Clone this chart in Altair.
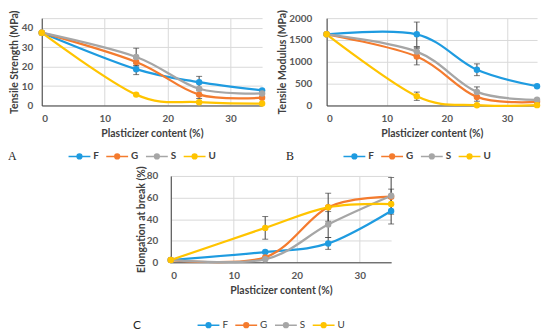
import altair as alt
import pandas as pd

# ---------------- data ----------------
series = ["F", "G", "S", "U"]
colors = ["#1E9BE0", "#F47B2E", "#A6A6A6", "#FFC400"]
content = [0, 15, 25, 35]

# A: Tensile strength (MPa)
ts_vals = {
    "F": [37.5, 18.7, 12.0, 7.8],
    "G": [37.5, 22.4, 5.6, 4.0],
    "S": [37.5, 25.0, 8.6, 6.2],
    "U": [37.5, 5.6, 1.7, 1.0],
}
ts_errs = {
    "F": [0, 2.8, 3.0, 0],
    "G": [0, 2.0, 2.0, 0],
    "S": [0, 4.5, 3.0, 0],
    "U": [0, 0, 0, 0],
}

# B: Tensile modulus (MPa)
tm_vals = {
    "F": [1630, 1630, 818, 440],
    "G": [1630, 1120, 197, 84],
    "S": [1630, 1234, 311, 130],
    "U": [1630, 212, 7, 8],
}
tm_errs = {
    "F": [0, 280, 135, 0],
    "G": [0, 190, 100, 0],
    "S": [0, 100, 115, 0],
    "U": [0, 95, 0, 0],
}

# C: Elongation at break (%)
el_vals = {
    "F": [2.1, 9.5, 17.5, 47.5],
    "G": [2.1, 4.6, 51.0, 60.8],
    "S": [2.1, 2.8, 35.0, 61.6],
    "U": [2.1, 31.9, 50.9, 54.0],
}
el_errs = {
    "F": [0, 0, 5.5, 12],
    "G": [0, 0, 13, 7],
    "S": [0, 0, 12, 17],
    "U": [0, 10.5, 0, 0],
}

x_ticks = [0, 10, 20, 30]


def long_df(vals, errs):
    rows = []
    for s in series:
        for x, v, e in zip(content, vals[s], errs[s]):
            rows.append(dict(series=s, x=x, y=v, lo=v - e, hi=v + e, err=e))
    return pd.DataFrame(rows)


SYMBOL = ("M-2.75,0H-0.7 M0.7,0H2.75 "
          "M-0.6,0A0.6,0.6 0 1,1 0.6,0A0.6,0.6 0 1,1 -0.6,0Z")

FONT = "Lato"
ERR = "#404040"


def panel(vals, errs, ytitle, ymax, yticks, w, h, ylabpad, ytitlepad,
          label, labfont, labfontsize, legx, legy, titlepad, legbold, colpad):
    df = long_df(vals, errs)
    dfe = df[df.err > 0]
    cs = alt.Scale(domain=series, range=colors)
    xaxis = alt.Axis(values=x_ticks, title="Plasticizer content (%)", grid=True,
                     gridColor="#D9D9D9", ticks=False, domainColor="#404040",
                     labelFont=FONT, labelFontSize=10, labelFontWeight="bold",
                     labelColor="#595959", labelPadding=8, titleFont=FONT,
                     titleFontSize=10.5, titleFontWeight="bold", titleColor="#404040",
                     titlePadding=5)
    yaxis = alt.Axis(values=yticks, title=ytitle, grid=True, gridColor="#D9D9D9",
                     ticks=False, domainColor="#404040", labelFont=FONT, format="d",
                     labelFontSize=10, labelFontWeight="bold", labelColor="#595959",
                     labelPadding=ylabpad, titleFont=FONT, titleFontSize=10.5,
                     titleFontWeight="bold", titleColor="#404040",
                     titlePadding=ytitlepad,
                     labelExpr="datum.value == 45 ? '' : datum.label")
    leg = alt.Legend(
        orient="none", legendX=legx, legendY=legy, direction="horizontal",
        title=label, titleOrient="left", titleFont=labfont,
        titleFontSize=labfontsize, titleFontWeight="normal", titleColor="#222222",
        titlePadding=titlepad, titleBaseline="middle", symbolType=SYMBOL,
        symbolSize=64, symbolOpacity=1, labelFont=FONT,
        labelFontSize=10, labelFontWeight="bold" if legbold else "normal",
        labelColor="#404040", labelOffset=9, columnPadding=colpad, padding=0)
    xs = alt.Scale(domain=[0, 35], nice=False)
    ys = alt.Scale(domain=[0, ymax], nice=False)
    X = alt.X("x:Q", scale=xs, axis=xaxis)

    lines = alt.Chart(df).mark_line(interpolate="cardinal", strokeWidth=2.25).encode(
        x=X, y=alt.Y("y:Q", scale=ys, axis=yaxis),
        stroke=alt.Stroke("series:N", scale=cs, legend=leg))
    rule = alt.Chart(dfe).mark_rule(color=ERR, strokeWidth=1).encode(
        x=X, y=alt.Y("lo:Q", scale=ys, axis=yaxis), y2="hi:Q")
    cap_lo = alt.Chart(dfe).mark_tick(orient="horizontal", size=6, thickness=1, color=ERR).encode(
        x=X, y=alt.Y("lo:Q", scale=ys, axis=yaxis))
    cap_hi = alt.Chart(dfe).mark_tick(orient="horizontal", size=6, thickness=1, color=ERR).encode(
        x=X, y=alt.Y("hi:Q", scale=ys, axis=yaxis))
    pts = alt.Chart(df).mark_point(filled=True, size=42, opacity=1).encode(
        x=X, y=alt.Y("y:Q", scale=ys, axis=yaxis),
        fill=alt.Fill("series:N", scale=cs, legend=leg))
    return alt.layer(lines, rule, cap_lo, cap_hi, pts).properties(width=w, height=h)


A = panel(ts_vals, ts_errs, "Tensile Strength (MPa)", 45, [0, 10, 20, 30, 40, 45],
          222, 88, 9, 2, "A", "Liberation Serif", 12, -34, 134, 58, True, 4)
B = panel(tm_vals, tm_errs, "Tensile Modulus (MPa)", 2000, [0, 500, 1000, 1500, 2000],
          212, 88, 15, 1, "B", "Liberation Serif", 12, -41, 134, 55, True, 4)
C = panel(el_vals, el_errs, "Elongation at break (%)", 80, [0, 20, 40, 60, 80],
          222, 87, 13, 0, "C", FONT, 12, -38, 145, 62, False, 4)

spacer = alt.Chart(pd.DataFrame({"v": [0]})).mark_point(opacity=0).encode(
    x=alt.X("v:Q", axis=None), y=alt.Y("v:Q", axis=None)).properties(width=130, height=87)

top = alt.hconcat(A, B, spacing=65, bounds="flush").resolve_scale(
    fill="independent", stroke="independent").resolve_legend(
    fill="independent", stroke="independent")
bottom = alt.hconcat(spacer, C, spacing=0, bounds="flush").resolve_scale(
    fill="independent", stroke="independent").resolve_legend(
    fill="independent", stroke="independent")

chart = alt.vconcat(top, bottom, spacing=3).properties(
    padding=0, background="white").resolve_scale(
    fill="independent", stroke="independent").resolve_legend(
    fill="independent", stroke="independent").configure_view(
    stroke="transparent", strokeWidth=0)

chart.save("out.html", embed_options={"renderer": "svg", "actions": False})
